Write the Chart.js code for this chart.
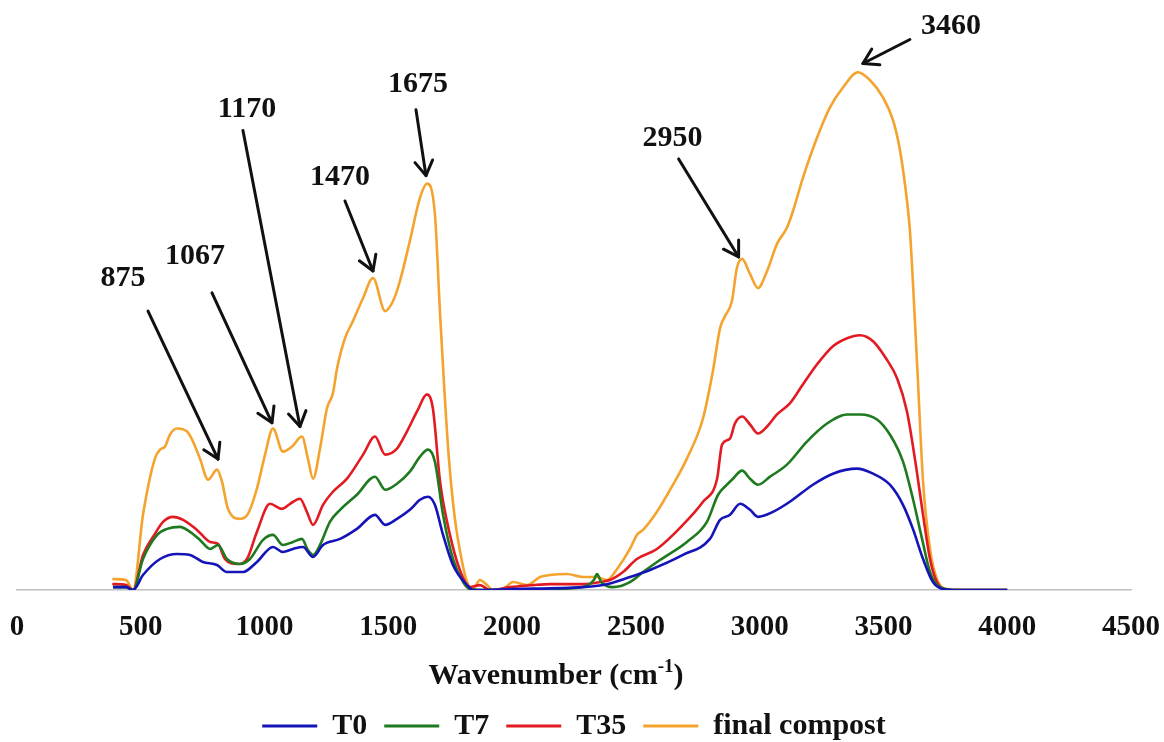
<!DOCTYPE html>
<html>
<head>
<meta charset="utf-8">
<script src="https://cdn.jsdelivr.net/npm/chart.js@4.4.1/dist/chart.umd.min.js"></script>
<style>
  html, body { margin: 0; padding: 0; background: #ffffff; }
  #wrap { width: 1164px; height: 742px; position: relative; }
</style>
</head>
<body>
<div id="wrap"><canvas id="c"></canvas></div>
<script>
// ---------- data ----------
const xTicks = [0, 500, 1000, 1500, 2000, 2500, 3000, 3500, 4000, 4500];
const seriesNames = ['T0', 'T7', 'T35', 'final compost'];

const t0X = [388,440,469,509,578,646,699,751,808,848,913,969,1034,1074,1115,1155,1196,1236,1305,1373,1446,1487,1535,1587,1628,1660,1688,1721,1761,1818,1842,2000,2286,2367,2476,2557,2690,2799,2840,2880,2921,2961,2993,3054,3122,3215,3296,3393,3458,3526,3579,3619,3660,3700,3741,3800,4000];
const t0Y = [0.03,0.03,0.00,0.15,0.31,0.36,0.35,0.28,0.25,0.18,0.18,0.28,0.43,0.38,0.41,0.43,0.33,0.45,0.51,0.61,0.75,0.65,0.71,0.80,0.90,0.93,0.85,0.55,0.25,0.05,0.00,0.01,0.03,0.05,0.13,0.20,0.35,0.51,0.70,0.75,0.86,0.80,0.73,0.78,0.88,1.05,1.16,1.21,1.16,1.05,0.85,0.61,0.31,0.08,0.01,0.00,0.00];

const t7X = [388,440,469,509,566,606,658,699,739,780,812,848,901,941,994,1034,1074,1115,1151,1175,1196,1224,1264,1305,1373,1446,1487,1535,1587,1628,1660,1688,1721,1761,1802,1830,1900,2153,2286,2330,2343,2360,2407,2476,2529,2597,2706,2787,2832,2868,2892,2929,2961,2993,3042,3110,3191,3272,3353,3405,3474,3526,3579,3619,3656,3688,3728,3800,4000];
const t7Y = [0.03,0.03,0.00,0.31,0.55,0.61,0.63,0.58,0.50,0.41,0.45,0.31,0.26,0.31,0.50,0.55,0.45,0.48,0.51,0.40,0.35,0.45,0.68,0.80,0.95,1.13,1.00,1.06,1.18,1.33,1.40,1.28,0.75,0.31,0.08,0.01,0.00,0.01,0.03,0.10,0.16,0.08,0.03,0.08,0.18,0.30,0.48,0.68,0.95,1.05,1.11,1.19,1.11,1.05,1.13,1.25,1.48,1.66,1.75,1.75,1.70,1.55,1.28,0.91,0.51,0.18,0.03,0.00,0.00];

const t35X = [385,440,469,509,557,590,630,671,727,780,812,840,889,929,969,1022,1070,1103,1143,1171,1196,1236,1276,1333,1398,1446,1487,1535,1575,1616,1656,1680,1709,1749,1789,1830,1870,1911,1991,2084,2153,2222,2286,2355,2395,2448,2504,2585,2690,2771,2828,2848,2880,2900,2929,2961,2993,3030,3070,3122,3175,3232,3296,3353,3405,3458,3510,3555,3595,3627,3660,3688,3716,3757,4000];
const t35Y = [0.06,0.05,0.00,0.35,0.56,0.68,0.73,0.70,0.60,0.48,0.46,0.31,0.26,0.31,0.58,0.86,0.81,0.86,0.91,0.78,0.65,0.85,0.98,1.11,1.35,1.53,1.35,1.41,1.58,1.78,1.95,1.81,1.08,0.55,0.20,0.03,0.05,0.00,0.03,0.05,0.06,0.06,0.06,0.08,0.10,0.18,0.31,0.41,0.65,0.88,1.11,1.45,1.51,1.66,1.73,1.65,1.56,1.63,1.75,1.86,2.05,2.25,2.43,2.51,2.54,2.48,2.31,2.11,1.78,1.31,0.75,0.31,0.08,0.00,0.00];

const fcX = [385,440,469,509,557,578,598,618,646,687,711,739,772,808,828,852,901,933,969,1002,1034,1074,1111,1151,1175,1196,1224,1252,1276,1293,1325,1357,1398,1438,1487,1519,1547,1587,1628,1656,1688,1709,1725,1745,1769,1798,1818,1842,1870,1899,1923,1963,2004,2060,2113,2153,2222,2286,2343,2383,2424,2476,2504,2529,2585,2650,2706,2771,2811,2840,2860,2888,2908,2929,2961,2993,3030,3070,3110,3135,3175,3232,3284,3337,3397,3446,3498,3539,3567,3595,3607,3636,3660,3688,3716,3757,3850,4000];
const fcY = [0.11,0.10,0.00,0.75,1.31,1.40,1.43,1.55,1.61,1.58,1.48,1.31,1.10,1.20,1.08,0.81,0.71,0.76,1.01,1.35,1.61,1.38,1.43,1.53,1.31,1.11,1.41,1.81,1.96,2.21,2.51,2.68,2.91,3.11,2.78,2.88,3.08,3.48,3.91,4.05,3.75,2.75,2.05,1.30,0.71,0.28,0.08,0.01,0.10,0.05,0.00,0.01,0.08,0.05,0.13,0.15,0.16,0.13,0.13,0.10,0.21,0.41,0.55,0.60,0.78,1.05,1.31,1.71,2.18,2.61,2.73,2.88,3.21,3.30,3.15,3.01,3.18,3.45,3.61,3.78,4.11,4.51,4.81,5.01,5.16,5.08,4.91,4.68,4.38,3.88,3.58,2.25,1.08,0.41,0.11,0.01,0.00,0.00];

// peak annotations on the final compost curve
const peakLabels = ['875', '1067', '1170', '1470', '1675', '2950', '3460'];
const peakTargets = [812, 1030, 1143, 1438, 1652, 2915, 3417];

// ---------- helpers ----------
function pts(xs, ys) { return xs.map((x, i) => ({ x: x, y: ys[i] })); }
function interp(xs, ys, v) {
  for (let i = 1; i < xs.length; i++) {
    if (v <= xs[i]) {
      const t = (v - xs[i - 1]) / (xs[i] - xs[i - 1]);
      return ys[i - 1] + t * (ys[i] - ys[i - 1]);
    }
  }
  return ys[ys.length - 1];
}

const SERIF = '"Liberation Serif", "Times New Roman", serif';
const colors = ['#1414b8', '#1f7a1f', '#e21b22', '#f3a32e'];

// arrow placement (pixel offsets, style only)
const arrowGeom = [
  { gap: 13, tdx: -70, tdy: -148, ldx: -25, ldy: -33 },
  { gap: 9,  tdx: -60, tdy: -130, ldx: -17, ldy: -37 },
  { gap: 12, tdx: -57, tdy: -296, ldx: 4,   ldy: -21 },
  { gap: 7,  tdx: -28, tdy: -70,  ldx: -5,  ldy: -24 },
  { gap: 10, tdx: -10, tdy: -66,  ldx: 2,   ldy: -25 },
  { gap: 8,  tdx: -60, tdy: -98,  ldx: -6,  ldy: -21 },
  { gap: 12, tdx: 47,  tdy: -24,  ldx: 41,  ldy: -13 }
];

const annotatePlugin = {
  id: 'peakArrows',
  afterDatasetsDraw(chart) {
    const ctx = chart.ctx;
    const xs = chart.scales.x, ys = chart.scales.y;
    ctx.save();
    ctx.strokeStyle = '#111111';
    ctx.fillStyle = '#111111';
    ctx.lineWidth = 3;
    ctx.lineCap = 'round';
    ctx.lineJoin = 'round';
    peakTargets.forEach((v, i) => {
      const g = arrowGeom[i];
      const tipX = xs.getPixelForValue(v);
      const tipY = ys.getPixelForValue(interp(fcX, fcY, v)) - g.gap;
      const tailX = tipX + g.tdx, tailY = tipY + g.tdy;
      ctx.beginPath();
      ctx.moveTo(tailX, tailY);
      ctx.lineTo(tipX, tipY);
      ctx.stroke();
      const ang = Math.atan2(tipY - tailY, tipX - tailX);
      const hl = 17, ha = 0.55;
      ctx.beginPath();
      ctx.moveTo(tipX - hl * Math.cos(ang - ha), tipY - hl * Math.sin(ang - ha));
      ctx.lineTo(tipX, tipY);
      ctx.lineTo(tipX - hl * Math.cos(ang + ha), tipY - hl * Math.sin(ang + ha));
      ctx.stroke();
      ctx.font = 'bold 30px ' + SERIF;
      ctx.textAlign = 'center';
      ctx.textBaseline = 'middle';
      ctx.fillText(peakLabels[i], tailX + g.ldx, tailY + g.ldy);
    });
    ctx.restore();
  }
};

const axisTitlePlugin = {
  id: 'axisTitleSup',
  afterDraw(chart) {
    const ctx = chart.ctx;
    const xs = chart.scales.x;
    const main1 = 'Wavenumber (cm', sup = '-1', main2 = ')';
    ctx.save();
    ctx.fillStyle = '#111111';
    ctx.textBaseline = 'alphabetic';
    ctx.font = 'bold 30px ' + SERIF;
    const w1 = ctx.measureText(main1).width, w3 = ctx.measureText(main2).width;
    ctx.font = 'bold 19px ' + SERIF;
    const w2 = ctx.measureText(sup).width;
    const total = w1 + w2 + w3;
    const cx = (chart.chartArea.left + chart.chartArea.right) / 2 - 18;
    const baseY = xs.top + 94;
    let x = cx - total / 2;
    ctx.textAlign = 'left';
    ctx.font = 'bold 30px ' + SERIF;
    ctx.fillText(main1, x, baseY);
    x += w1;
    ctx.font = 'bold 19px ' + SERIF;
    ctx.fillText(sup, x, baseY - 12);
    x += w2;
    ctx.font = 'bold 30px ' + SERIF;
    ctx.fillText(main2, x, baseY);
    ctx.restore();
  }
};

const datasets = [
  { label: seriesNames[0], data: pts(t0X, t0Y), borderColor: colors[0], backgroundColor: colors[0] },
  { label: seriesNames[1], data: pts(t7X, t7Y), borderColor: colors[1], backgroundColor: colors[1] },
  { label: seriesNames[2], data: pts(t35X, t35Y), borderColor: colors[2], backgroundColor: colors[2] },
  { label: seriesNames[3], data: pts(fcX, fcY), borderColor: colors[3], backgroundColor: colors[3] }
].map(d => Object.assign(d, {
  borderWidth: 2.6,
  pointRadius: 0,
  fill: false,
  cubicInterpolationMode: 'monotone'
}));

new Chart(document.getElementById('c'), {
  type: 'line',
  data: { datasets: datasets },
  plugins: [annotatePlugin, axisTitlePlugin],
  options: {
    responsive: true,
    maintainAspectRatio: false,
    animation: false,
    layout: { padding: { left: 17, right: 33, top: 8, bottom: -9 } },
    plugins: {
      tooltip: { enabled: false },
      legend: {
        position: 'bottom',
        labels: {
          color: '#111111',
          font: { family: SERIF, size: 30, weight: 'bold' },
          boxWidth: 55,
          boxHeight: 3,
          padding: 17,
          generateLabels(chart) {
            const items = Chart.defaults.plugins.legend.labels.generateLabels(chart);
            items.forEach(it => { it.lineWidth = 0; it.fillStyle = it.strokeStyle; });
            return items;
          }
        }
      }
    },
    scales: {
      x: {
        type: 'linear',
        min: 0,
        max: 4500,
        afterBuildTicks(scale) { scale.ticks = xTicks.map(v => ({ value: v })); },
        afterFit(scale) { scale.paddingLeft = 0; scale.paddingRight = 0; },
        grid: { display: false, drawTicks: false },
        border: { display: true, color: '#c0c0c0', width: 1.5 },
        ticks: {
          color: '#111111',
          font: { family: SERIF, size: 29, weight: 'bold', lineHeight: 1.1 },
          padding: 21,
          maxRotation: 0,
          autoSkip: false,
          callback: v => String(v)
        },
        title: {
          display: true,
          text: 'Wavenumber (cm-1)',
          color: 'rgba(0,0,0,0)',
          font: { family: SERIF, size: 30, weight: 'bold', lineHeight: 1.0 },
          padding: { top: 0, bottom: 0 }
        }
      },
      y: {
        display: false,
        min: 0,
        max: 5.8
      }
    }
  }
});
</script>
</body>
</html>
